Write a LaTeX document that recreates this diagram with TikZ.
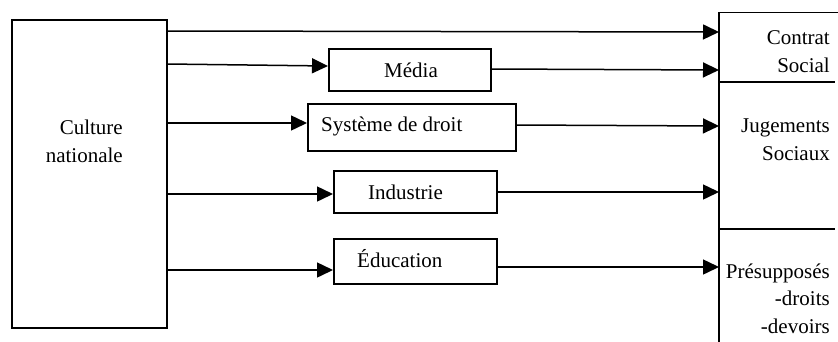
\documentclass[tikz,border=0pt]{standalone}
\usepackage{fontspec}
\setmainfont{Liberation Serif}
\usetikzlibrary{arrows.meta}
\begin{document}
\begin{tikzpicture}[x=1pt,y=-1pt,
  box/.style={draw,line width=1.5pt,inner sep=0pt,anchor=north west},
  txt/.style={inner sep=0pt,font=\fontsize{21}{27.5}\selectfont},
  arr/.style={line width=1.5pt,-{Triangle[length=16pt,width=15pt]}},
  rule/.style={line width=1.6pt}]
\useasboundingbox (0,0) rectangle (838,341);
% boxes
\node[box,minimum width=155pt,minimum height=308pt] (cult) at (11,19) {};
\node[box,minimum width=162pt,minimum height=42pt] (media) at (328,48) {};
\node[box,minimum width=208pt,minimum height=47pt] (droit) at (307,103) {};
\node[box,minimum width=163pt,minimum height=42pt] (indus) at (333,170) {};
\node[box,minimum width=163pt,minimum height=45pt] (educ) at (333,238) {};
% right column
\coordinate (ctop) at (719,12.5);
\coordinate (cbot) at (719,345);
\coordinate (ctopr) at (838,12.5);
\coordinate (s1l) at (719,82);
\coordinate (s1r) at (835,82);
\coordinate (s2l) at (719,229);
\coordinate (s2r) at (835,229);
\draw[rule] (cbot) -- (ctop) -- (ctopr);
\draw[rule] (s1l) -- (s1r);
\draw[rule] (s2l) -- (s2r);
% texts (base anchor = baseline of the last line)
\node[txt,align=right,anchor=base east] (tcult) at (123,162) {Culture\\nationale};
\node[txt,anchor=base west] (tmedia) at (384,77) {Média};
\node[txt,anchor=base west] (tdroit) at (321,131) {Système de droit};
\node[txt,anchor=base west] (tindus) at (368,199) {Industrie};
\node[txt,anchor=base west] (teduc) at (357,267) {Éducation};
\node[txt,align=right,anchor=base east] (tcontrat) at (830,72) {Contrat\\Social};
\node[txt,align=right,anchor=base east] (tjug) at (830,160) {Jugements\\Sociaux};
\node[txt,align=right,anchor=base east] (tpres) at (830,333) {Présupposés\\-droits\\-devoirs};
% arrows
\draw[arr] (cult.east |- 0,31) -- (ctop |- 0,32);
\draw[arr] (cult.east |- 0,64) -- (media.west |- 0,66);
\draw[arr] (cult.east |- 0,123) -- (droit.west |- 0,123);
\draw[arr] (cult.east |- 0,194) -- (indus.west |- 0,194);
\draw[arr] (cult.east |- 0,270) -- (educ.west |- 0,270);
\draw[arr] (media.east |- 0,69) -- (ctop |- 0,70);
\draw[arr] (droit.east |- 0,125) -- (ctop |- 0,126);
\draw[arr] (indus.east |- 0,192) -- (ctop |- 0,192);
\draw[arr] (educ.east |- 0,267) -- (ctop |- 0,267);
\end{tikzpicture}
\end{document}
